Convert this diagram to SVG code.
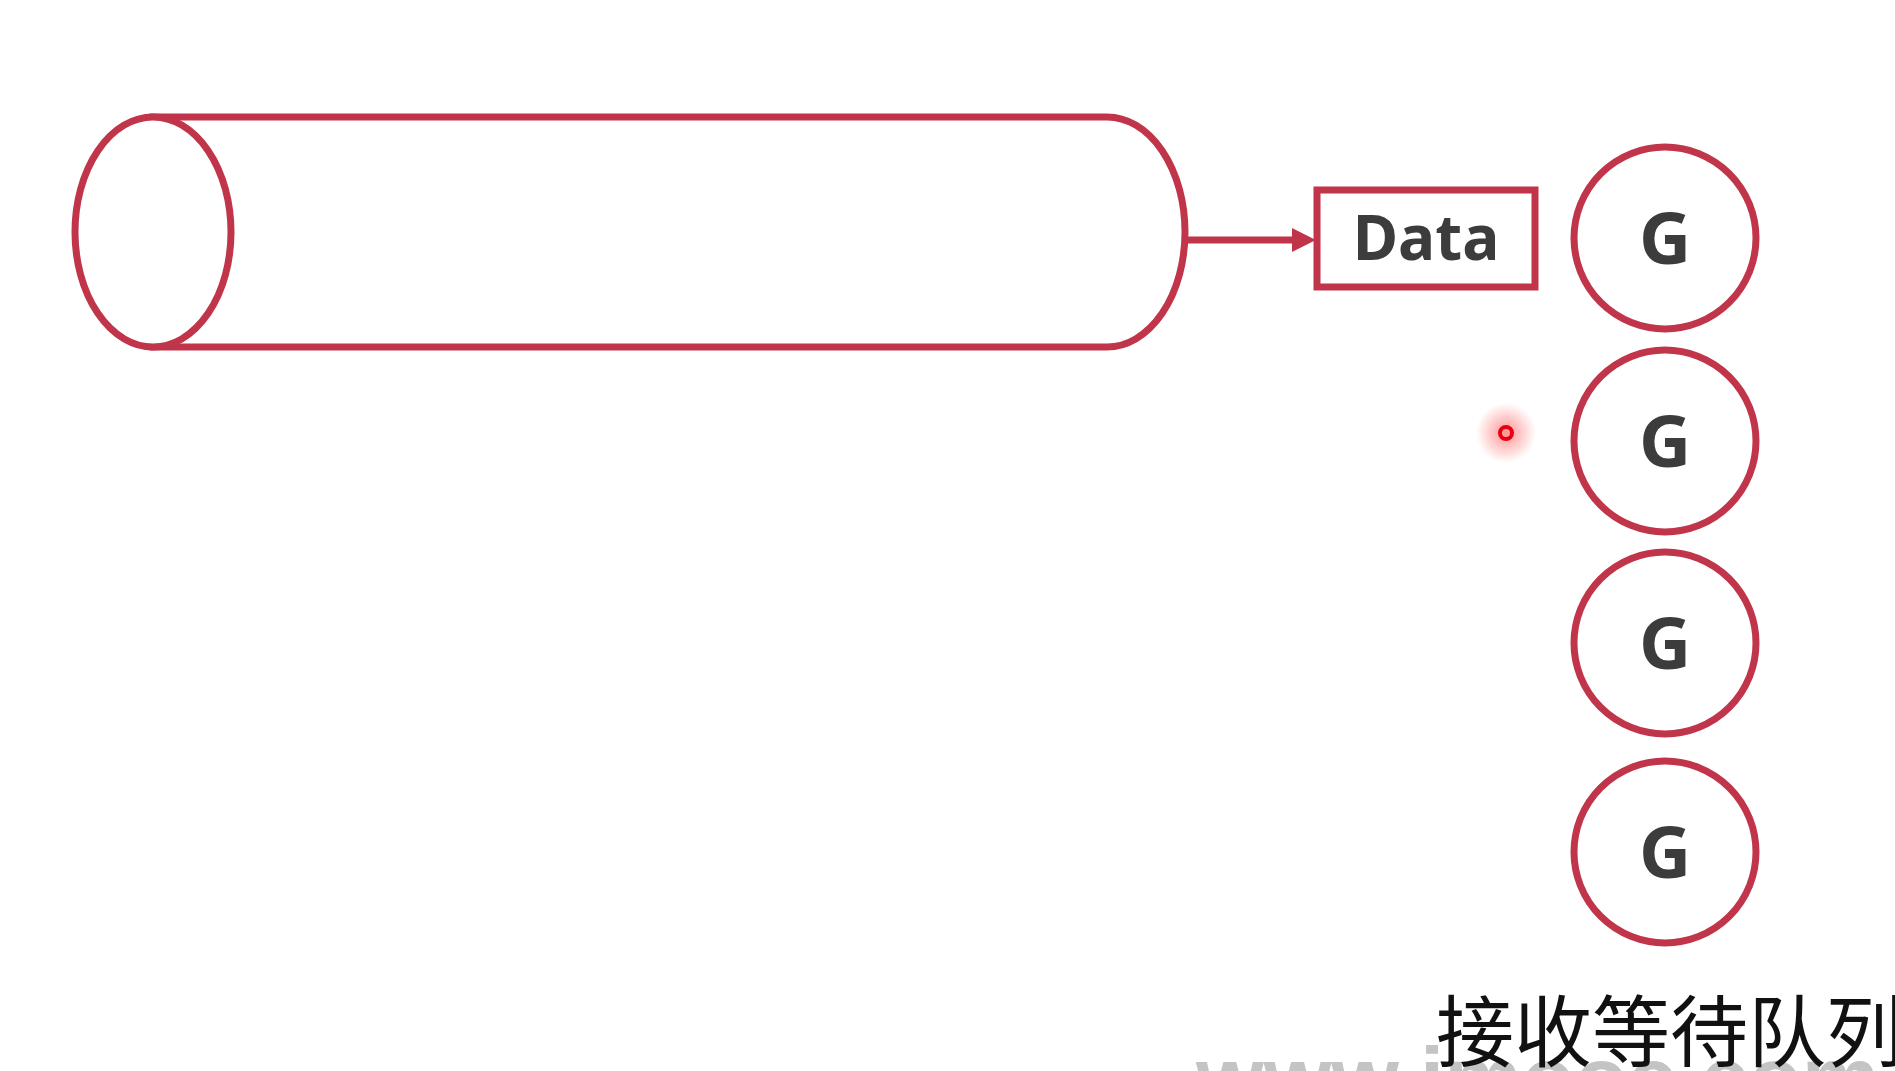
<svg xmlns="http://www.w3.org/2000/svg" width="1895" height="1071" viewBox="0 0 1895 1071">
  <defs>
    <style>
      .ln { fill: none; stroke: #c1354b; stroke-width: 7; }
      .nd { fill: #ffffff; stroke: #c1354b; stroke-width: 7; }
      .g { font-family: "Noto Sans", "Open Sans", "DejaVu Sans", sans-serif; font-weight: bold; font-size: 72px; fill: #3c3c3c; text-anchor: middle; }
      .data { font-family: "Noto Sans", "Open Sans", "DejaVu Sans", sans-serif; font-weight: bold; font-size: 62px; fill: #3c3c3c; text-anchor: middle; }
      .cap { font-family: "Noto Sans CJK SC", "Noto Sans CJK JP", sans-serif; font-size: 78px; fill: #111111; }
      .wm { font-family: "Liberation Sans", Arial, sans-serif; font-weight: bold; font-size: 87px; fill: #c4c4c4; }
    </style>
    <marker id="arr" viewBox="0 0 10 10" refX="0" refY="5" markerWidth="3.4" markerHeight="3.4" markerUnits="strokeWidth" orient="auto">
      <path d="M0,0 L10,5 L0,10 z" fill="#c1354b"/>
    </marker>
    <radialGradient id="glow">
      <stop offset="0" stop-color="#ff3b3b" stop-opacity="0.55"/>
      <stop offset="1" stop-color="#ff3b3b" stop-opacity="0"/>
    </radialGradient>
  </defs>
  <rect width="1895" height="1071" fill="#ffffff"/>

  <g id="queue">
    <path class="nd" d="M153,117 L1107,117 A78,115 0 0 1 1107,347 L153,347 Z"/>
    <ellipse class="nd" cx="153" cy="232" rx="78" ry="115"/>
  </g>

  <g id="connectors">
    <line class="ln" x1="1187" y1="240" x2="1292" y2="240" marker-end="url(#arr)"/>
  </g>

  <g id="data">
    <rect class="nd" x="1317" y="190" width="218" height="97"/>
    <text class="data" x="1426" y="260">Data</text>
  </g>

  <g id="g1">
    <circle class="nd" cx="1665" cy="238" r="91"/>
    <text class="g" x="1665" y="264">G</text>
  </g>
  <g id="g2">
    <circle class="nd" cx="1665" cy="441" r="91"/>
    <text class="g" x="1665" y="467">G</text>
  </g>
  <g id="g3">
    <circle class="nd" cx="1665" cy="643" r="91"/>
    <text class="g" x="1665" y="669">G</text>
  </g>
  <g id="g4">
    <circle class="nd" cx="1665" cy="852" r="91"/>
    <text class="g" x="1665" y="878">G</text>
  </g>

  <g id="pointer">
    <circle cx="1506" cy="433" r="30" fill="url(#glow)"/>
    <circle cx="1506" cy="433" r="6" fill="none" stroke="#e60012" stroke-width="4"/>
  </g>

  <text class="wm" x="1196" y="1108">www.imooc.com</text>
  <text class="cap" x="1436" y="1061">接收等待队列</text>
</svg>
